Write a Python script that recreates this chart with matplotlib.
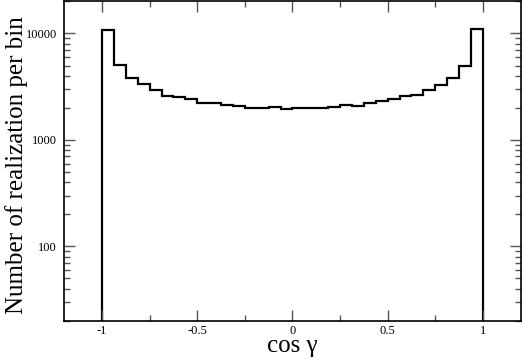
import matplotlib
matplotlib.use("Agg")
import matplotlib.pyplot as plt
import numpy as np
from matplotlib.ticker import FixedLocator, LogLocator, NullFormatter

# bin edges: 32 bins of width 1/16 over [-1, 1]
bin_edges = np.linspace(-1, 1, 33)
counts = [10700, 5050, 3790, 3325, 2940, 2600, 2510, 2400,
          2210, 2240, 2110, 2070, 1995, 2010, 2050, 1940,
          1995, 2010, 1980, 2025, 2110, 2070, 2210, 2300,
          2400, 2570, 2620, 2920, 3270, 3810, 4950, 10900]

x_major = [-1, -0.5, 0, 0.5, 1]
x_labels = ["-1", "-0.5", "0", "0.5", "1"]
x_minor = [-0.75, -0.25, 0.25, 0.75]
y_major = [100, 1000, 10000]
y_labels = ["100", "1000", "10000"]

plt.rcParams["font.family"] = ["Liberation Serif", "DejaVu Serif"]

fig = plt.figure(figsize=(5.23, 3.59), dpi=100)
ax = fig.add_axes([0.1224, 0.1067, 0.8736, 0.8893])

ax.stairs(counts, bin_edges, baseline=1, color="black", linewidth=1.6)

ax.set_yscale("log")
ax.set_xlim(-1.2, 1.2)
ax.set_ylim(20, 20000)

ax.xaxis.set_major_locator(FixedLocator(x_major))
ax.set_xticklabels(x_labels)
ax.xaxis.set_minor_locator(FixedLocator(x_minor))
ax.yaxis.set_major_locator(FixedLocator(y_major))
ax.set_yticklabels(y_labels)
ax.yaxis.set_minor_locator(LogLocator(base=10, subs=np.arange(2, 10)))
ax.yaxis.set_minor_formatter(NullFormatter())

ax.tick_params(which="both", direction="in", top=True, right=True,
               width=1, color="#555555", labelsize=9)
ax.tick_params(which="major", length=8, pad=5)
ax.tick_params(which="minor", length=4.5)
ax.tick_params(axis="x", which="major", pad=3)
for s in ax.spines.values():
    s.set_linewidth(1.2)

ax.set_xlabel("cos \u03b3", fontsize=18, labelpad=-1)
ax.set_ylabel("Number of realization per bin", fontsize=18)
ax.yaxis.set_label_coords(-0.078, 0.487)

fig.savefig("out.png", dpi=100)
